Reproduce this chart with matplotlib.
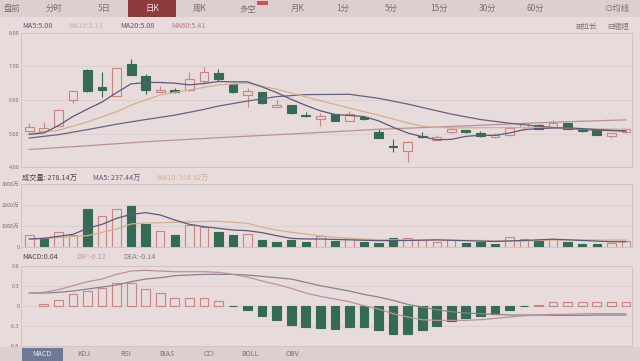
import numpy as np
import matplotlib.pyplot as plt
from matplotlib.patches import Rectangle

plt.rcParams['font.family'] = ['Noto Sans CJK SC', 'DejaVu Sans']

# daily K data (42 sessions)
open_ = [5.07, 5.07, 5.24, 5.99, 6.90, 6.40, 6.13, 7.07, 6.70, 6.25, 6.29, 6.29, 6.55, 6.79,
         6.49, 6.16, 6.24, 5.79, 5.84, 5.56, 5.45, 5.57, 5.39, 5.49, 5.04, 4.62, 4.48, 4.93,
         4.82, 5.04, 5.10, 5.01, 4.89, 4.96, 5.20, 5.27, 5.19, 5.31, 5.12, 5.11, 4.92, 5.04]
high = [5.31, 5.34, 5.72, 6.27, 6.91, 6.84, 6.95, 7.23, 6.78, 6.41, 6.37, 6.84, 6.97, 6.93,
        6.50, 6.36, 6.25, 5.99, 5.85, 5.63, 5.60, 5.58, 5.67, 5.53, 5.14, 4.84, 4.78, 5.05,
        4.96, 5.22, 5.12, 5.07, 5.03, 5.22, 5.35, 5.28, 5.41, 5.32, 5.13, 5.12, 5.02, 5.15]
low = [5.04, 5.05, 5.22, 5.92, 6.25, 6.09, 6.12, 6.73, 6.19, 6.24, 6.22, 6.27, 6.49, 6.55,
       6.22, 5.79, 5.89, 5.78, 5.59, 5.50, 5.24, 5.38, 5.38, 5.42, 4.87, 4.45, 4.16, 4.88,
       4.81, 5.03, 5.02, 4.91, 4.88, 4.93, 5.12, 5.13, 5.18, 5.13, 5.06, 4.95, 4.86, 5.03]
close = [5.21, 5.18, 5.71, 6.26, 6.26, 6.31, 6.94, 6.74, 6.29, 6.31, 6.24, 6.62, 6.82, 6.61,
         6.23, 6.28, 5.90, 5.85, 5.60, 5.51, 5.53, 5.39, 5.57, 5.44, 4.88, 4.59, 4.75, 4.91,
         4.91, 5.14, 5.04, 4.94, 4.96, 5.16, 5.33, 5.14, 5.31, 5.14, 5.07, 4.96, 5.01, 5.13]

ma5 = [4.98, 5.02, 5.24, 5.51, 5.73, 5.94, 6.22, 6.48, 6.52, 6.52, 6.50, 6.45, 6.49, 6.55,
       6.54, 6.54, 6.39, 6.22, 6.02, 5.84, 5.68, 5.57, 5.54, 5.51, 5.38, 5.19, 5.02, 4.91,
       4.82, 4.83, 4.92, 4.95, 4.95, 5.02, 5.12, 5.15, 5.17, 5.17, 5.15, 5.12, 5.10, 5.08]
ma10_idx = [0, 2, 4, 6, 7, 9, 11, 13, 15, 17, 20, 22, 24, 26, 27, 29, 32, 35, 38, 41]
ma10 = [5.00, 5.10, 5.35, 5.65, 5.85, 6.15, 6.30, 6.45, 6.50, 6.32, 5.98, 5.76, 5.55, 5.32,
        5.22, 5.17, 5.18, 5.18, 5.15, 5.13]
ma20_idx = [0, 2, 4, 6, 8, 10, 12, 13, 15, 17, 19, 22, 24, 26, 27, 29, 31, 33, 35, 37, 39, 41]
ma20 = [4.87, 4.97, 5.12, 5.28, 5.42, 5.55, 5.72, 5.82, 5.97, 6.10, 6.16, 6.17, 6.05, 5.88,
        5.78, 5.58, 5.42, 5.31, 5.22, 5.15, 5.10, 5.08]
ma60_idx = [0, 4, 8, 13, 18, 24, 30, 36, 41]
ma60 = [4.53, 4.64, 4.76, 4.88, 4.99, 5.13, 5.23, 5.34, 5.41]

# volume in 万, up/down colour as shown
volume = [562, 433, 692, 562, 1812, 1476, 1800, 1957, 1106, 755, 548, 1043, 962, 721,
          548, 596, 337, 240, 322, 226, 529, 288, 433, 226, 163, 404, 433, 308,
          240, 308, 163, 226, 144, 452, 385, 274, 356, 211, 144, 144, 163, 278]
vol_up = [1, 0, 1, 1, 0, 1, 1, 0, 0, 1, 0, 1, 1, 0, 0, 1, 0, 0, 0, 0, 1, 0, 1, 0, 0, 0, 1,
          1, 1, 1, 0, 0, 0, 1, 1, 0, 1, 0, 0, 0, 1, 1]
vma5_idx = [0, 1, 3, 4, 5, 6, 7, 8, 9, 10, 11, 12, 13, 14, 15, 16, 17, 18, 19, 20, 22, 24,
            26, 28, 30, 32, 34, 36, 38, 40, 41]
vma5 = [370, 402, 594, 883, 1075, 1364, 1556, 1636, 1524, 1284, 1075, 963, 883, 803, 771,
        675, 530, 402, 370, 370, 330, 290, 300, 330, 290, 250, 300, 360, 300, 240, 237]
vma10_idx = [0, 4, 5, 6, 7, 8, 10, 12, 13, 14, 15, 16, 17, 18, 19, 20, 22, 24, 26, 28, 30,
             32, 34, 36, 38, 40, 41]
vma10 = [353, 530, 691, 851, 1092, 1140, 1172, 1220, 1220, 1172, 1124, 931, 803, 691, 610,
         520, 400, 340, 320, 310, 310, 290, 280, 320, 330, 317, 317]

macd = [0.0, 0.02, 0.08, 0.17, 0.22, 0.26, 0.34, 0.34, 0.25, 0.19, 0.11, 0.11, 0.11, 0.07,
        -0.005, -0.07, -0.15, -0.21, -0.29, -0.32, -0.34, -0.35, -0.32, -0.32, -0.37, -0.43,
        -0.42, -0.36, -0.30, -0.23, -0.19, -0.16, -0.13, -0.07, -0.01, 0.005, 0.05, 0.05,
        0.05, 0.05, 0.05, 0.05]
dif = [0.19, 0.20, 0.24, 0.30, 0.36, 0.40, 0.47, 0.52, 0.53, 0.52, 0.51, 0.51, 0.51, 0.50,
       0.47, 0.43, 0.37, 0.32, 0.26, 0.19, 0.14, 0.10, 0.06, 0.00, -0.05, -0.12, -0.17, -0.21,
       -0.22, -0.22, -0.22, -0.21, -0.19, -0.17, -0.15, -0.14, -0.13, -0.13, -0.12, -0.12,
       -0.12, -0.12]
dea = [0.19, 0.19, 0.20, 0.22, 0.25, 0.28, 0.31, 0.36, 0.40, 0.42, 0.45, 0.46, 0.47, 0.47,
       0.47, 0.46, 0.44, 0.42, 0.40, 0.35, 0.30, 0.26, 0.22, 0.17, 0.13, 0.08, 0.02, -0.02,
       -0.06, -0.09, -0.11, -0.12, -0.13, -0.14, -0.14, -0.14, -0.145, -0.145, -0.145, -0.14,
       -0.14, -0.14]

top_tabs = ['盘前', '分时', '5日', '日K', '周K', '多空', '月K', '1分', '5分', '15分', '30分', '60分']
top_tab_x = [12, 54, 104, 152, 200, 248, 298, 343, 391, 439, 488, 535]
bottom_tabs = ['MACD', 'KDJ', 'RSI', 'BIAS', 'CCI', 'BOLL', 'OBV']
bottom_tab_x = [42, 84, 126, 167, 209, 250, 293]

BG = '#e7dbdb'
TAB_BG = '#ddcfcf'
GRID = '#dccdcd'
EDGE = '#d3c3c3'
RED = '#c98484'
GREEN = '#356b55'
C_MA5 = '#5c5979'
C_MA10 = '#d6ae92'
C_MA20 = '#66637f'
C_MA60 = '#b99098'
TXT = '#7d6e6e'

W, H = 640, 361
fig = plt.figure(figsize=(6.4, 3.61), dpi=100)
fig.patch.set_facecolor(BG)


def fx(px):
    return px / W


def fy(py):
    return 1 - py / H


def rect(x0, y0, x1, y1, color):
    fig.add_artist(Rectangle((fx(x0), fy(y1)), fx(x1) - fx(x0), (y1 - y0) / H,
                             transform=fig.transFigure, facecolor=color, edgecolor='none'))


# top tab strip
rect(0, 0, 640, 17, TAB_BG)
rect(128, 0, 176, 17, '#8d3b3b')
rect(257, 1, 268, 5, '#d0504a')
for name, x in zip(top_tabs, top_tab_x):
    fig.text(fx(x), fy(8.5), name, ha='center', va='center', fontsize=6,
             color='#f3e4e4' if name == '日K' else TXT)
fig.text(fx(618), fy(8.5), '⊙均线', ha='center', va='center', fontsize=6, color=TXT)

# bottom tab strip
rect(0, 347, 640, 361, TAB_BG)
rect(22, 348, 63, 361, '#6f7895')
for name, x in zip(bottom_tabs, bottom_tab_x):
    fig.text(fx(x), fy(354.5), name, ha='center', va='center', fontsize=5,
             color='#eeeef4' if name == 'MACD' else TXT)

xs = np.arange(len(close))
xlim = (-0.57, 41.42)


def setup(ax, ticks, labels):
    ax.set_facecolor(BG)
    ax.set_xlim(*xlim)
    ax.set_xticks([])
    ax.set_yticks(ticks)
    ax.set_yticklabels(labels)
    ax.tick_params(axis='y', length=0, pad=1.0, labelsize=4.0, labelcolor=TXT)
    ax.grid(axis='y', color=GRID, lw=0.6)
    ax.set_axisbelow(True)
    for s in ax.spines.values():
        s.set_color(EDGE)
        s.set_linewidth(0.7)


# price panel
ax1 = fig.add_axes([fx(21), fy(167.3), fx(632) - fx(21), (167.3 - 32.7) / H])
setup(ax1, [4, 5, 6, 7, 8], ['4.00', '5.00', '6.00', '7.00', '8.00'])
ax1.set_ylim(4, 8)
for i in xs:
    up = close[i] >= open_[i]
    col = RED if up else GREEN
    lo_body, hi_body = min(open_[i], close[i]), max(open_[i], close[i])
    ax1.vlines(i, low[i], lo_body, color=col, lw=0.8)
    ax1.vlines(i, hi_body, high[i], color=col, lw=0.8)
    ax1.bar(i, max(hi_body - lo_body, 0.005), bottom=lo_body, width=0.6,
            facecolor=BG if up else GREEN, edgecolor=col, lw=0.8)
ax1.plot(ma60_idx, ma60, color=C_MA60, lw=0.9)
ax1.plot(ma20_idx, ma20, color=C_MA20, lw=0.9)
ax1.plot(ma10_idx, ma10, color=C_MA10, lw=0.9)
ax1.plot(xs, ma5, color=C_MA5, lw=0.9)

fig.text(fx(22), fy(25.5), 'MA5:5.08', fontsize=5.2, color=C_MA5, va='center')
fig.text(fx(68), fy(25.5), 'MA10:5.13', fontsize=5.2, color=C_MA10, va='center')
fig.text(fx(120), fy(25.5), 'MA20:5.08', fontsize=5.2, color='#5e5a6e', va='center')
fig.text(fx(171), fy(25.5), 'MA60:5.41', fontsize=5.2, color='#c07a7a', va='center')
fig.text(fx(575), fy(26.5), '⊞拉长', fontsize=5.5, color=TXT, va='center')
fig.text(fx(607), fy(26.5), '⊟缩短', fontsize=5.5, color=TXT, va='center')

# volume panel
ax2 = fig.add_axes([fx(21), fy(246.7), fx(632) - fx(21), (246.7 - 184.3) / H])
setup(ax2, [0, 1000, 2000, 3000], ['0', '1000万', '2000万', '3000万'])
ax2.set_ylim(0, 3000)
for i in xs:
    if vol_up[i]:
        ax2.bar(i, volume[i], width=0.58, facecolor=BG, edgecolor=RED, lw=0.8)
    else:
        ax2.bar(i, volume[i], width=0.58, facecolor=GREEN, edgecolor=GREEN, lw=0.8)
ax2.plot(vma10_idx, vma10, color=C_MA10, lw=0.9)
ax2.plot(vma5_idx, vma5, color=C_MA5, lw=0.9)

fig.text(fx(22), fy(178), '成交量: 278.14万', fontsize=5.2, color='#4e4444', va='center')
fig.text(fx(93), fy(178), 'MA5: 237.44万', fontsize=5.2, color=C_MA5, va='center')
fig.text(fx(157), fy(178), 'MA10: 316.92万', fontsize=5.2, color=C_MA10, va='center')

# MACD panel
ax3 = fig.add_axes([fx(21), fy(345.7), fx(632) - fx(21), (345.7 - 265.7) / H])
setup(ax3, [-0.6, -0.3, 0, 0.3, 0.6], ['-0.6', '-0.3', '0', '0.3', '0.6'])
ax3.set_ylim(-0.6, 0.6)
for i in xs:
    v = macd[i]
    if v == 0:
        continue
    if v > 0:
        ax3.bar(i, v, width=0.6, facecolor=BG, edgecolor=RED, lw=0.8)
    else:
        ax3.bar(i, v, width=0.6, facecolor=GREEN, edgecolor=GREEN, lw=0.8)
ax3.plot(xs, dea, color='#8c8090', lw=0.9)
ax3.plot(xs, dif, color='#bb929c', lw=0.9)

fig.text(fx(22), fy(257), 'MACD:0.04', fontsize=5.2, color='#4e4444', va='center')
fig.text(fx(76), fy(257), 'DIF:-0.12', fontsize=5.2, color='#c09aa2', va='center')
fig.text(fx(123), fy(257), 'DEA:-0.14', fontsize=5.2, color='#857a86', va='center')

fig.savefig('out.png', dpi=100, facecolor=BG)
